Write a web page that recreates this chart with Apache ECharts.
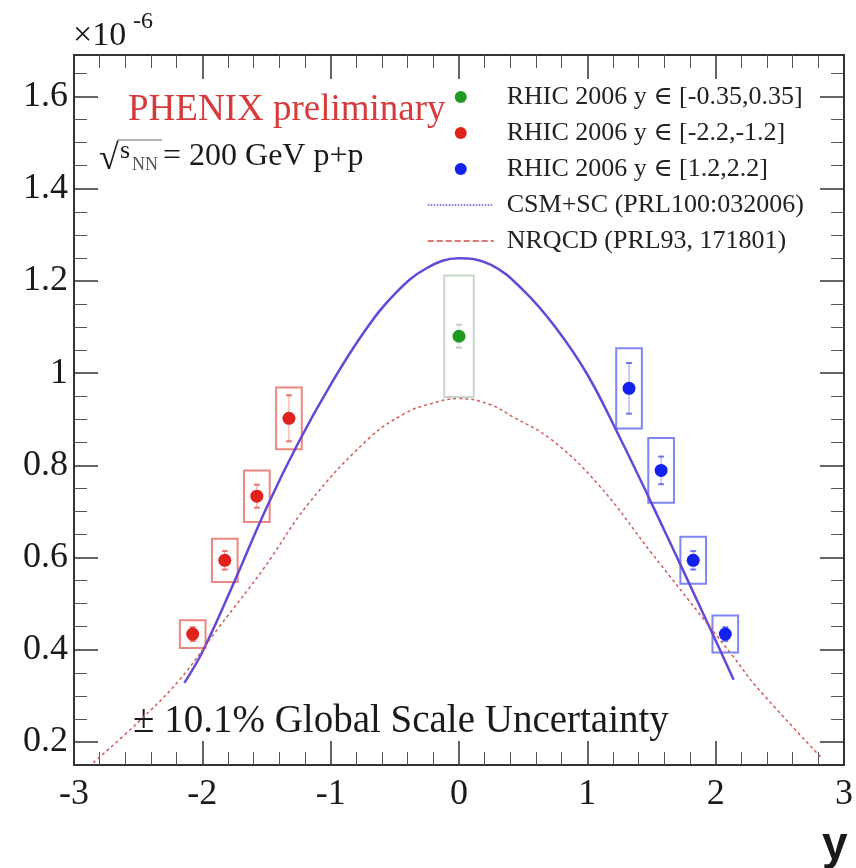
<!DOCTYPE html>
<html>
<head>
<meta charset="utf-8">
<script src="https://cdn.jsdelivr.net/npm/echarts@6/dist/echarts.min.js"></script>
<style>
html, body { margin: 0; padding: 0; background: #fff; }
#jpsi-chart { width: 856px; height: 868px; }
</style>
</head>
<body>
<div id="jpsi-chart"></div>
<script>
/* ............................ data ............................ */
// mid rapidity |y| < 0.35
const midRap = [0];
const midVal = [1.08];
const midStat = [0.025];
const midSys = [0.132];

// backward, y in [-2.2,-1.2]
const bwdRap = [-2.075, -1.825, -1.575, -1.325];
const bwdVal = [0.434, 0.594, 0.733, 0.902];
const bwdStat = [0.015, 0.02, 0.025, 0.05];
const bwdSys = [0.03, 0.047, 0.056, 0.067];

// forward, y in [1.2,2.2]
const fwdRap = [1.325, 1.575, 1.825, 2.075];
const fwdVal = [0.967, 0.789, 0.594, 0.434];
const fwdStat = [0.055, 0.03, 0.02, 0.015];
const fwdSys = [0.087, 0.07, 0.051, 0.04];

// CSM+SC curve
const csmRap = [-2.14, -2.0, -1.75, -1.5, -1.25, -1.0, -0.75, -0.5, -0.25, 0,
  0.25, 0.5, 0.75, 1.0, 1.25, 1.5, 1.75, 2.0, 2.14];
const csmVal = [0.328, 0.395, 0.548, 0.708, 0.850, 0.975, 1.085, 1.172, 1.228, 1.249,
  1.235, 1.180, 1.100, 0.997, 0.862, 0.718, 0.570, 0.420, 0.335];

// NRQCD curve
const nrqcdRap = [-2.85, -2.5, -2.18, -1.87, -1.53, -1.17, -0.70, -0.42, -0.24, 0,
  0.24, 0.42, 0.71, 1.08, 1.50, 1.93, 2.14, 2.32, 2.82];
const nrqcdVal = [0.155, 0.243, 0.334, 0.449, 0.573, 0.718, 0.859, 0.913, 0.932, 0.945,
  0.932, 0.905, 0.858, 0.76, 0.61, 0.458, 0.384, 0.319, 0.167];

const seriesNames = [
  'RHIC 2006 y \u2208 [-0.35,0.35]',
  'RHIC 2006 y \u2208 [-2.2,-1.2]',
  'RHIC 2006 y \u2208 [1.2,2.2]',
  'CSM+SC (PRL100:032006)',
  'NRQCD (PRL93, 171801)'
];
/* ............................ data ............................ */

const serif = '"Liberation Serif", "DejaVu Serif", serif';
const boxHalfWidth = 0.1;

function zip(...cols) {
  return cols[0].map((_, i) => cols.map(c => c[i]));
}

function renderBox(params, api) {
  const x = api.value(0), y = api.value(1), st = api.value(2), sy = api.value(3);
  const hw = params.seriesIndex === 0 ? boxHalfWidth * 1.15 : boxHalfWidth;
  const p0 = api.coord([x - hw, y + sy]);
  const p1 = api.coord([x + hw, y - sy]);
  const e0 = api.coord([x, y + st]);
  const e1 = api.coord([x, y - st]);
  const c = api.visual('color');
  return {
    type: 'group',
    children: [
      { type: 'rect', shape: { x: p0[0], y: p0[1], width: p1[0] - p0[0], height: p1[1] - p0[1] },
        style: { fill: 'none', stroke: c, lineWidth: 2, opacity: 0.55 } },
      { type: 'line', shape: { x1: e0[0], y1: e0[1], x2: e1[0], y2: e1[1] },
        style: { stroke: c, lineWidth: 1, opacity: 0.45 } },
      { type: 'line', shape: { x1: e0[0] - 3, y1: e0[1], x2: e0[0] + 3, y2: e0[1] },
        style: { stroke: c, lineWidth: 2, opacity: 0.6 } },
      { type: 'line', shape: { x1: e1[0] - 3, y1: e1[1], x2: e1[0] + 3, y2: e1[1] },
        style: { stroke: c, lineWidth: 2, opacity: 0.6 } }
    ]
  };
}

const tickLine = { color: '#333', width: 1.5 };

function xAxisOf(pos, labels) {
  return {
    type: 'value', position: pos, min: -3, max: 3, interval: 1,
    axisLine: { show: true, onZero: false, lineStyle: { color: '#333', width: 2 } },
    axisTick: { show: true, inside: true, length: 24, lineStyle: tickLine },
    minorTick: { show: true, splitNumber: 5, length: 13, lineStyle: { color: '#555', width: 1 } },
    splitLine: { show: false },
    axisLabel: { show: labels, margin: 12, fontFamily: serif, fontSize: 36, color: '#1a1a1a' }
  };
}

function yAxisOf(pos, labels) {
  return {
    type: 'value', position: pos, min: 0.15, max: 1.69, splitNumber: 8,
    axisLine: { show: true, onZero: false, lineStyle: { color: '#333', width: 2 } },
    axisTick: { show: true, inside: true, length: 24, lineStyle: tickLine },
    minorTick: { show: true, splitNumber: 4, length: 13, lineStyle: { color: '#555', width: 1 } },
    splitLine: { show: false },
    axisLabel: { show: labels, showMinLabel: false, showMaxLabel: false, margin: 6,
      fontFamily: serif, fontSize: 36, color: '#1a1a1a' }
  };
}

const colors = ['#1f9a1f', '#e0221c', '#1420ee'];

let option = {
  animation: false,
  grid: { left: 74, right: 5, top: 55, bottom: 103 },
  xAxis: [xAxisOf('bottom', true), xAxisOf('top', false)],
  yAxis: [yAxisOf('left', true), yAxisOf('right', false)],
  legend: {
    orient: 'vertical', left: 422, top: 79,
    itemWidth: 66, itemHeight: 12, itemGap: 10,
    textStyle: { fontFamily: serif, fontSize: 26, color: '#222', padding: [0, 0, 0, 8] },
    data: [
      { name: seriesNames[0] },
      { name: seriesNames[1] },
      { name: seriesNames[2] },
      { name: seriesNames[3], itemStyle: { opacity: 0 },
        lineStyle: { type: 'dotted', color: '#5a50e0', width: 1.5 } },
      { name: seriesNames[4], itemStyle: { opacity: 0 },
        lineStyle: { type: 'dashed', color: '#d84a4a', width: 1.5 } }
    ]
  },
  series: [
    { type: 'custom', renderItem: renderBox, itemStyle: { color: '#9ab89a' }, z: 2,
      data: zip(midRap, midVal, midStat, midSys) },
    { type: 'custom', renderItem: renderBox, itemStyle: { color: colors[1] }, z: 2,
      data: zip(bwdRap, bwdVal, bwdStat, bwdSys) },
    { type: 'custom', renderItem: renderBox, itemStyle: { color: colors[2] }, z: 2,
      data: zip(fwdRap, fwdVal, fwdStat, fwdSys) },
    { name: seriesNames[3], type: 'line', smooth: 0.4, symbol: 'none', z: 3,
      itemStyle: { color: '#6448d8' },
      lineStyle: { color: '#6448d8', width: 2.5 }, data: zip(csmRap, csmVal) },
    { name: seriesNames[4], type: 'line', smooth: 0.4, symbol: 'none', z: 3,
      itemStyle: { color: '#d45a5a' },
      lineStyle: { color: '#d45a5a', width: 1.5, type: [3, 3] }, data: zip(nrqcdRap, nrqcdVal) },
    { name: seriesNames[0], type: 'scatter', symbolSize: 13, z: 5,
      itemStyle: { color: colors[0], opacity: 1 }, data: zip(midRap, midVal) },
    { name: seriesNames[1], type: 'scatter', symbolSize: 13, z: 5,
      itemStyle: { color: colors[1], opacity: 1 }, data: zip(bwdRap, bwdVal) },
    { name: seriesNames[2], type: 'scatter', symbolSize: 13, z: 5,
      itemStyle: { color: colors[2], opacity: 1 }, data: zip(fwdRap, fwdVal) }
  ],
  graphic: [
    { type: 'text', x: 73, y: 36, style: { text: '\u00d710', font: '34px ' + serif, fill: '#1a1a1a', verticalAlign: 'middle' } },
    { type: 'text', x: 133, y: 22, style: { text: '-6', font: '24px ' + serif, fill: '#1a1a1a', verticalAlign: 'middle' } },
    { type: 'text', x: 128, y: 110, style: { text: 'PHENIX preliminary', font: '37px ' + serif, fill: '#d63a3a', verticalAlign: 'middle' } },
    { type: 'text', x: 99, y: 160, style: { text: '\u221a', font: '36px ' + serif, fill: '#1a1a1a', verticalAlign: 'middle' } },
    { type: 'line', shape: { x1: 118, y1: 140, x2: 162, y2: 140 }, style: { stroke: '#666', lineWidth: 1 } },
    { type: 'text', x: 120, y: 151, style: { text: 's', font: '26px ' + serif, fill: '#1a1a1a', verticalAlign: 'middle' } },
    { type: 'text', x: 132, y: 165, style: { text: 'NN', font: '18px ' + serif, fill: '#555', verticalAlign: 'middle' } },
    { type: 'text', x: 163, y: 157, style: { text: '= 200 GeV p+p', font: '32px ' + serif, fill: '#1a1a1a', verticalAlign: 'middle' } },
    { type: 'text', x: 133, y: 722, style: { text: '\u00b1 10.1% Global Scale Uncertainty', font: '39px ' + serif, fill: '#1a1a1a', verticalAlign: 'middle' } },
    { type: 'text', x: 822, y: 846, style: { text: 'y', font: 'bold 46px "Liberation Sans", Arial, sans-serif', fill: '#1a1a1a', verticalAlign: 'middle' } }
  ]
};

const myChart = echarts.init(document.getElementById('jpsi-chart'), null, { renderer: 'canvas' });
option && myChart.setOption(option);
</script>
</body>
</html>
